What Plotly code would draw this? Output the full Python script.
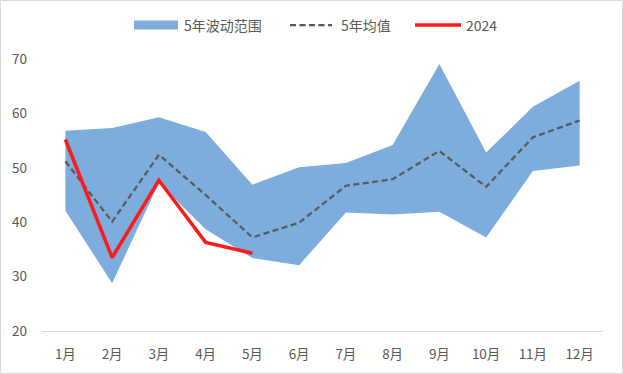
import plotly.graph_objects as go

months = ["1月", "2月", "3月", "4月", "5月", "6月", "7月", "8月", "9月", "10月", "11月", "12月"]
band_upper = [56.8, 57.3, 59.3, 56.6, 46.9, 50.1, 50.9, 54.2, 69.1, 52.8, 61.2, 66.0]
band_lower = [42.1, 28.8, 47.2, 38.7, 33.4, 32.1, 41.8, 41.4, 41.9, 37.2, 49.4, 50.4]
mean_5y = [51.2, 40.1, 52.4, 45.0, 37.2, 39.9, 46.7, 47.9, 53.1, 46.5, 55.6, 58.7]
months_2024 = ["1月", "2月", "3月", "4月", "5月"]
values_2024 = [55.2, 33.5, 47.7, 36.3, 34.3]
y_ticks = [20, 30, 40, 50, 60, 70]
legend_names = ["5年波动范围", "5年均值", "2024"]

FONT = "Noto Sans CJK SC, Microsoft YaHei, sans-serif"
TXT = "#595959"
BLUE = "#7CADDC"
GRAY = "#595959"
RED = "#FF1A1A"
DASH = "6px,3.5px"

fig = go.Figure()
fig.add_trace(go.Scatter(x=months, y=band_lower, mode="lines", line=dict(width=0, color="rgba(0,0,0,0)"),
                         showlegend=False, hoverinfo="skip"))
fig.add_trace(go.Scatter(x=months, y=band_upper, mode="lines", line=dict(width=0, color=BLUE),
                         fill="tonexty", fillcolor=BLUE, name=legend_names[0], showlegend=False))
fig.add_trace(go.Scatter(x=months, y=mean_5y, mode="lines", line=dict(color=GRAY, width=2.25, dash=DASH),
                         name=legend_names[1], showlegend=False))
fig.add_trace(go.Scatter(x=months_2024, y=values_2024, mode="lines", line=dict(color=RED, width=3.5),
                         name=legend_names[2], showlegend=False))

W, H = 623, 374
L, R, T, B = 42, 20, 59, 43
pw, ph = W - L - R, H - T - B


def px(x):
    return (x - L) / pw


def py(y):
    return (H - B - y) / ph


shapes = [
    dict(type="rect", xref="paper", yref="paper", x0=px(0.5), x1=px(W - 0.5), y0=py(H - 0.5), y1=py(0.5),
         line=dict(color="#D9D9D9", width=1), layer="below"),
    # custom legend symbols
    dict(type="rect", xref="paper", yref="paper", x0=px(134), x1=px(178), y0=py(29.5), y1=py(20.5),
         line=dict(width=0), fillcolor=BLUE),
    dict(type="line", xref="paper", yref="paper", x0=px(290), x1=px(332), y0=py(25), y1=py(25),
         line=dict(color=GRAY, width=2.25, dash=DASH)),
    dict(type="line", xref="paper", yref="paper", x0=px(415), x1=px(461), y0=py(25), y1=py(25),
         line=dict(color=RED, width=3.5)),
]
annotations = [
    dict(xref="paper", yref="paper", x=px(xs), y=py(25), text=t, showarrow=False, xanchor="left",
         yanchor="middle", font=dict(family=FONT, size=14, color=TXT))
    for xs, t in zip([182, 339, 464], legend_names)
]

fig.update_layout(
    width=W, height=H,
    margin=dict(l=L, r=R, t=T, b=B, autoexpand=False),
    paper_bgcolor="white", plot_bgcolor="white",
    font=dict(family=FONT, size=13.5, color=TXT),
    showlegend=False,
    xaxis=dict(type="category", categoryorder="array", categoryarray=months, range=[-0.5, 11.5],
               showgrid=False, showline=True, linecolor="#D9D9D9", linewidth=1, ticks="",
               ticklabelstandoff=11, tickfont=dict(family=FONT, size=13.5, color=TXT), automargin=False),
    yaxis=dict(range=[20, 70], tickvals=y_ticks, showgrid=False, zeroline=False, showline=False,
               ticks="", ticklabelstandoff=14, tickfont=dict(family=FONT, size=13.5, color=TXT),
               automargin=False),
    shapes=shapes,
    annotations=annotations,
)

fig.write_html("out.html", config={"displayModeBar": False},
               post_script="document.body.style.margin='0';document.body.style.overflow='hidden';")
